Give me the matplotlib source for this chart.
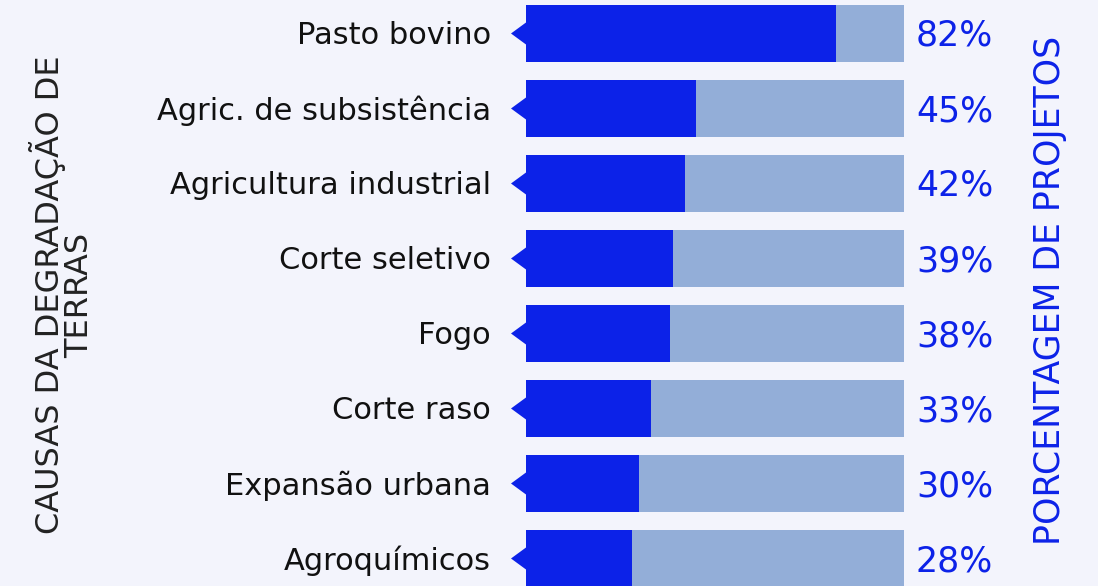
import matplotlib
matplotlib.use("Agg")
import matplotlib.pyplot as plt
from matplotlib.transforms import offset_copy

categories = ["Pasto bovino", "Agric. de subsistência", "Agricultura industrial",
              "Corte seletivo", "Fogo", "Corte raso", "Expansão urbana", "Agroquímicos"]
values = [82, 45, 42, 39, 38, 33, 30, 28]
total = 100
left_title = "CAUSAS DA DEGRADAÇÃO DE\nTERRAS"
right_title = "PORCENTAGEM DE PROJETOS"

BG = "#f3f4fc"
DARK = "#0c22e8"
LIGHT = "#93aed8"
TEXT = "#111111"

W, H = 1098, 586
fig = plt.figure(figsize=(W / 100, H / 100), dpi=100, facecolor=BG)
ax = fig.add_axes([526 / W, 0, 378 / W, 1])
ax.set_facecolor(BG)
ax.set_xlim(0, total)
ax.set_ylim((586 - 33.5) / 75, -33.5 / 75)
ax.axis("off")

ypos = list(range(len(categories)))
bh = 57 / 75
ax.barh(ypos, [total] * len(values), height=bh, color=LIGHT, linewidth=0)
ax.barh(ypos, values, height=bh, color=DARK, linewidth=0)

tip = -15 / 378 * total
hh = 11 / 75
for y in ypos:
    ax.fill([0, tip, 0], [y - hh, y, y + hh], color=DARK, linewidth=0, clip_on=False)

lab_tr = offset_copy(ax.transData, fig=fig, x=-35, y=1, units="dots")
pct_tr = offset_copy(ax.transData, fig=fig, x=12, y=1, units="dots")
for y, c, v in zip(ypos, categories, values):
    ax.text(0, y, c, transform=lab_tr, ha="right", va="center_baseline",
            fontsize=22, color=TEXT, family="DejaVu Sans")
    ax.text(total, y, f"{v}%", transform=pct_tr, ha="left", va="center_baseline",
            fontsize=25, color=DARK, family="DejaVu Sans")

fig.text(62 / W, 1 - 295 / H, left_title, rotation=90, ha="center", va="center",
         multialignment="center", fontsize=23, color="#222222", linespacing=0.92,
         family="DejaVu Sans")
fig.text(1050 / W, 1 - 290 / H, right_title, rotation=90, ha="center", va="center",
         fontsize=25, color=DARK, family="DejaVu Sans")

fig.savefig("out.png", dpi=100, facecolor=BG)
